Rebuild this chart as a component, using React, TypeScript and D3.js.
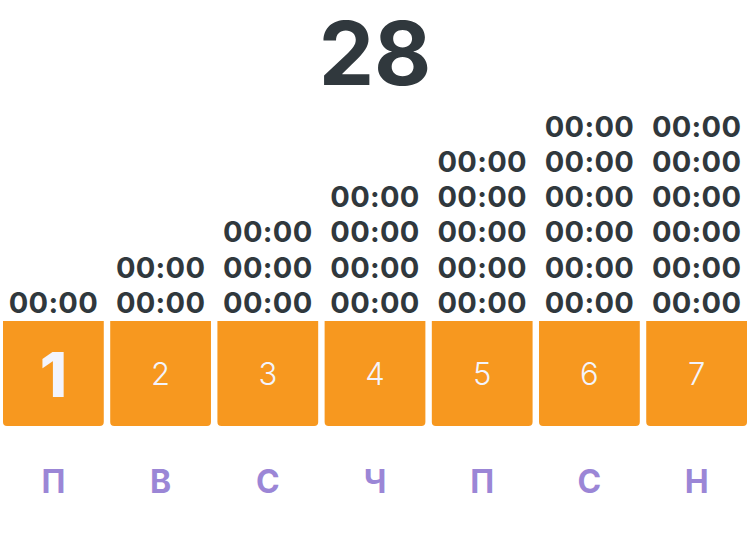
import * as d3 from "d3";

const monthDay = "28";
const weekdays = ["П", "В", "С", "Ч", "П", "С", "Н"];
const dates = [1, 2, 3, 4, 5, 6, 7];
const slotCounts = [1, 2, 3, 4, 5, 6, 6];
const slotLabel = "00:00";
const activeDate = 1;

const W = 750;
const H = 536;

export default function App() {
  const x = d3
    .scaleBand<number>()
    .domain(dates)
    .range([3, 747])
    .paddingInner(0.06)
    .paddingOuter(0);

  // строки с временем, снизу вверх
  const rowY = d3.scaleLinear().domain([0, 1]).range([313, 277.7]);

  const boxTop = 321;
  const boxBottom = 426;
  const r = 4;
  const bw = x.bandwidth();

  const boxPath = (x0: number) => {
    const p = d3.path();
    p.moveTo(x0, boxTop);
    p.lineTo(x0 + bw, boxTop);
    p.lineTo(x0 + bw, boxBottom - r);
    p.quadraticCurveTo(x0 + bw, boxBottom, x0 + bw - r, boxBottom);
    p.lineTo(x0 + r, boxBottom);
    p.quadraticCurveTo(x0, boxBottom, x0, boxBottom - r);
    p.closePath();
    return p.toString();
  };

  const font = "Inter, 'Open Sans', sans-serif";

  return (
    <svg
      width={W}
      height={H}
      viewBox={`0 0 ${W} ${H}`}
      style={{ position: "absolute", left: 0, top: 0, background: "#fff" }}
    >
      <text
        x={W / 2}
        y={85}
        textAnchor="middle"
        fontFamily={font}
        fontWeight={700}
        fontSize={88}
        fill="#30383d"
      >
        {monthDay}
      </text>

      {dates.map((d, i) => {
        const x0 = x(d)!;
        const cx = x0 + bw / 2;
        const active = d === activeDate;
        return (
          <g key={d}>
            {d3.range(slotCounts[i]).map((k) => (
              <text
                key={k}
                x={cx}
                y={rowY(k)}
                textAnchor="middle"
                fontFamily={font}
                fontWeight={700}
                fontSize={29}
                letterSpacing={0.3}
                fill="#30383d"
              >
                {slotLabel}
              </text>
            ))}
            <path d={boxPath(x0)} fill="#f7981f" />
            <text
              x={cx}
              y={active ? 396.7 : 385}
              textAnchor="middle"
              fontFamily={font}
              fontWeight={active ? 800 : 300}
              fontSize={active ? 62 : 31}
              fill="#f3f4fc"
            >
              {d}
            </text>
            <text
              x={cx}
              y={493}
              textAnchor="middle"
              fontFamily={font}
              fontWeight={700}
              fontSize={32}
              fill="#9b86d6"
            >
              {weekdays[i]}
            </text>
          </g>
        );
      })}
    </svg>
  );
}
